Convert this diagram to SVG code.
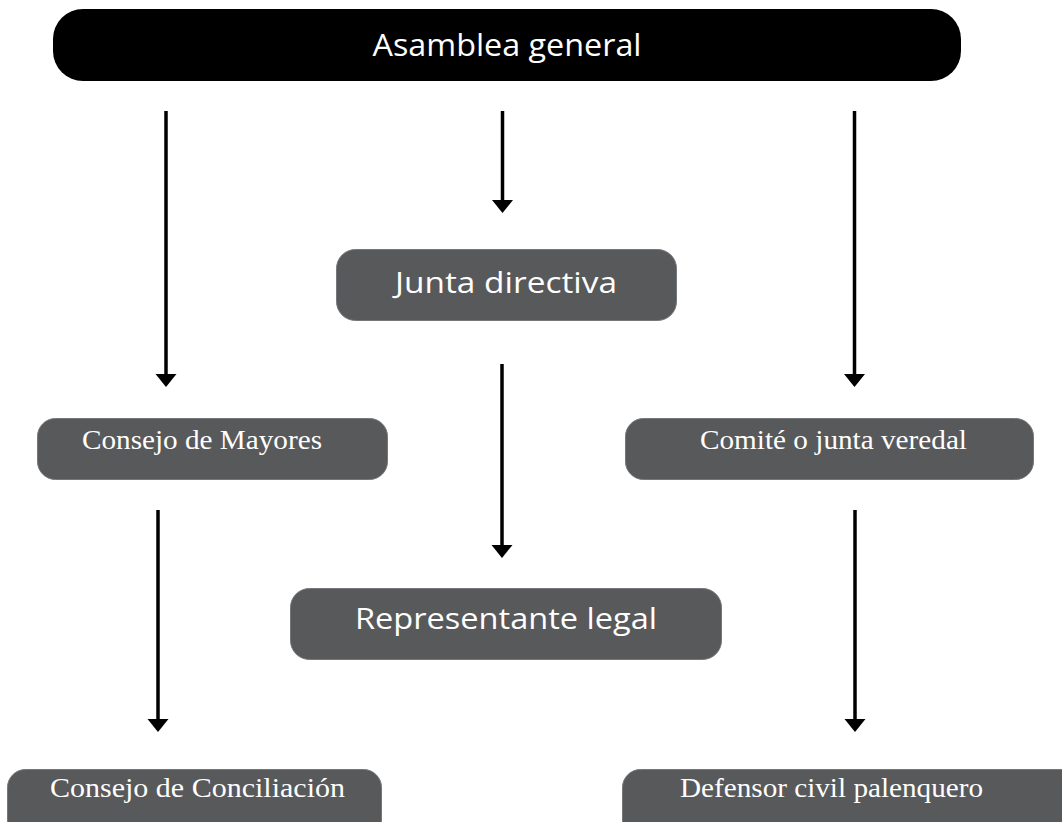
<svg xmlns="http://www.w3.org/2000/svg" width="1062" height="822" viewBox="0 0 1062 822">
<style>
.box{fill:#58595b;stroke:#76777a;stroke-width:1}
.top{fill:#000}
.sans{font-family:"Open Sans","Noto Sans",sans-serif;fill:#fff;text-anchor:middle}
.serif{font-family:"Liberation Serif","Times New Roman",serif;fill:#fff;text-anchor:middle}
.conn line{stroke:#000;stroke-width:3.5;fill:none}
</style>
<defs>
<marker id="ah" markerUnits="userSpaceOnUse" markerWidth="14" markerHeight="22" refX="0" refY="11" orient="auto" viewBox="0 0 14 22">
<path d="M0,0.5 L13,11 L0,21.5 Z" fill="#000"/>
</marker>
</defs>
<rect width="1062" height="822" fill="#fff"/>
<g id="asamblea">
<rect class="top" x="53" y="9" width="908" height="72" rx="30"/>
<text class="sans" x="507" y="56" font-size="31" textLength="269" lengthAdjust="spacingAndGlyphs">Asamblea general</text>
</g>
<g id="junta">
<rect class="box" x="336.5" y="249.5" width="340" height="71" rx="19"/>
<text class="sans" x="506" y="293" font-size="30" textLength="222" lengthAdjust="spacingAndGlyphs">Junta directiva</text>
</g>
<g id="mayores">
<rect class="box" x="37.5" y="418.5" width="350" height="61" rx="18"/>
<text class="serif" x="202" y="449" font-size="27" textLength="240" lengthAdjust="spacingAndGlyphs">Consejo de Mayores</text>
</g>
<g id="comite">
<rect class="box" x="625.5" y="418.5" width="408" height="61" rx="18"/>
<text class="serif" x="833.5" y="449" font-size="27" textLength="267" lengthAdjust="spacingAndGlyphs">Comité o junta veredal</text>
</g>
<g id="representante">
<rect class="box" x="290.5" y="588.5" width="431" height="71" rx="19"/>
<text class="sans" x="506" y="629" font-size="30" textLength="302" lengthAdjust="spacingAndGlyphs">Representante legal</text>
</g>
<g id="conciliacion">
<rect class="box" x="7.5" y="769.5" width="374" height="70" rx="18"/>
<text class="serif" x="197.5" y="797" font-size="27" textLength="295" lengthAdjust="spacingAndGlyphs">Consejo de Conciliación</text>
</g>
<g id="defensor">
<rect class="box" x="622.5" y="769.5" width="460" height="70" rx="18"/>
<text class="serif" x="831.5" y="797" font-size="27" textLength="303" lengthAdjust="spacingAndGlyphs">Defensor civil palenquero</text>
</g>
<g id="connectors" class="conn">
<line x1="166" y1="111" x2="166" y2="374" marker-end="url(#ah)"/>
<line x1="502.5" y1="111" x2="502.5" y2="200" marker-end="url(#ah)"/>
<line x1="854.5" y1="111" x2="854.5" y2="374" marker-end="url(#ah)"/>
<line x1="502" y1="364" x2="502" y2="545" marker-end="url(#ah)"/>
<line x1="158" y1="510" x2="158" y2="719" marker-end="url(#ah)"/>
<line x1="855" y1="510" x2="855" y2="719" marker-end="url(#ah)"/>
</g>
</svg>
